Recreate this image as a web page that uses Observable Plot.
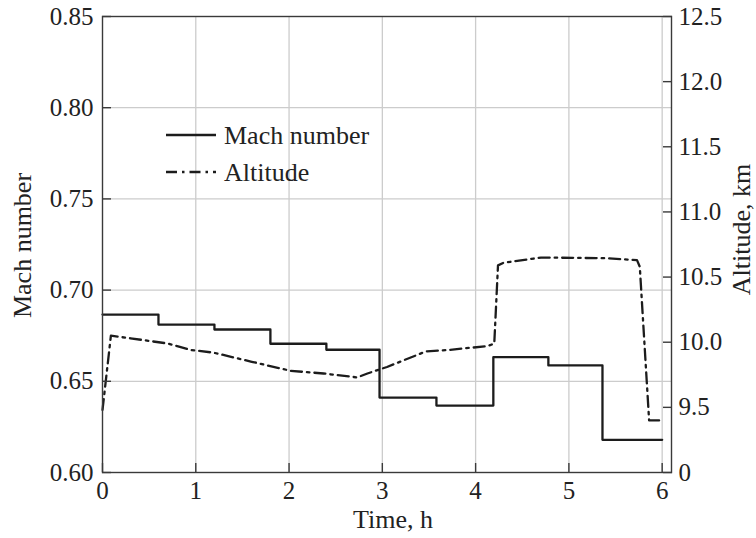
<!DOCTYPE html>
<html>
<head>
<meta charset="utf-8">
<script src="https://cdn.jsdelivr.net/npm/d3@7"></script>
<script src="https://cdn.jsdelivr.net/npm/@observablehq/plot@0.6"></script>
<style>
  html, body { margin: 0; padding: 0; background: white; }
  #chart { width: 756px; height: 538px; }
</style>
</head>
<body>
<div id="chart"></div>
<script>
// ---- data ----
const xTicks = [0, 1, 2, 3, 4, 5, 6];
const machTicks = [0.60, 0.65, 0.70, 0.75, 0.80, 0.85];
const altTickValues = [9.0, 9.5, 10.0, 10.5, 11.0, 11.5, 12.0, 12.5];
const altTickLabels = ["0", "9.5", "10.0", "10.5", "11.0", "11.5", "12.0", "12.5"];

// Mach number (step changes)
const machTime  = [0, 0.6, 1.2, 1.8, 2.4, 2.97, 3.58, 4.19, 4.78, 5.36, 6.0];
const machValue = [0.6866, 0.6811, 0.6784, 0.6706, 0.6673, 0.6411, 0.6367, 0.6632, 0.6587, 0.6179, 0.6179];

// Altitude, km
const altTime  = [0, 0.09, 0.30, 0.70, 0.95, 1.19, 1.60, 2.02, 2.37, 2.73, 2.84, 3.05, 3.47, 3.70, 4.13, 4.20, 4.24, 4.30, 4.70, 5.38, 5.73, 5.76, 5.86, 6.0];
const altValue = [9.48, 10.05, 10.03, 9.99, 9.94, 9.92, 9.85, 9.78, 9.76, 9.73, 9.76, 9.81, 9.93, 9.94, 9.97, 9.99, 10.59, 10.61, 10.65, 10.645, 10.63, 10.58, 9.40, 9.40];

// ---- scale mapping for the secondary (altitude) axis ----
const machDomain = [0.60, 0.85];
const altDomain = [9.0, 12.5];
const toMach = a => machDomain[0] + (a - altDomain[0]) / (altDomain[1] - altDomain[0]) * (machDomain[1] - machDomain[0]);

const machData = machTime.map((t, i) => ({t, v: machValue[i]}));
const altData = altTime.map((t, i) => ({t, a: altValue[i]}));
const altTickPos = altTickValues.map(toMach);
const altLabelFor = d => {
  const i = altTickPos.findIndex(p => Math.abs(p - d) < 1e-9);
  return i >= 0 ? altTickLabels[i] : "";
};

const FONT = "'Liberation Serif', 'Times New Roman', Times, serif";
const INK = "#222";
const FRAME = "#3a3a3a";
const GRID = "#cccccc";

const chart = Plot.plot({
  width: 756,
  height: 538,
  marginLeft: 102,
  marginRight: 85,
  marginTop: 16,
  marginBottom: 66,
  x: {domain: [0, 6.1]},
  y: {domain: machDomain},
  style: {fontFamily: FONT, fontSize: "25px", color: INK, background: "white"},
  marks: [
    Plot.gridX(xTicks.slice(1), {stroke: GRID, strokeOpacity: 1, strokeWidth: 1.3}),
    Plot.gridY(machTicks.slice(1, -1), {stroke: GRID, strokeOpacity: 1, strokeWidth: 1.3}),
    Plot.line(altData, {x: "t", y: d => toMach(d.a), stroke: "#1c1c1c", strokeWidth: 2.3, strokeDasharray: "11,5,2.5,5"}),
    Plot.line(machData, {x: "t", y: "v", curve: "step-after", stroke: "#1c1c1c", strokeWidth: 2.3}),
    Plot.frame({stroke: FRAME, strokeWidth: 1.4}),
    // inward ticks
    Plot.axisX(xTicks, {tickSize: -9, tickFormat: () => "", label: null, stroke: FRAME, strokeWidth: 1.4}),
    Plot.axisY(machTicks, {anchor: "left", tickSize: -9, tickFormat: () => "", label: null, stroke: FRAME, strokeWidth: 1.4}),
    Plot.axisY(altTickPos, {anchor: "right", tickSize: -9, tickFormat: () => "", label: null, stroke: FRAME, strokeWidth: 1.4}),
    // tick labels
    Plot.axisX(xTicks, {tickSize: 0, tickPadding: 9, tickFormat: d => String(d), label: null, fill: INK}),
    Plot.axisY(machTicks, {anchor: "left", tickSize: 0, tickPadding: 9, tickFormat: d3.format(".2f"), label: null, fill: INK}),
    Plot.axisY(altTickPos, {anchor: "right", tickSize: 0, tickPadding: 7, tickFormat: altLabelFor, label: null, fill: INK}),
    // axis titles
    Plot.text(["Mach number"], {text: d => d, frameAnchor: "left", textAnchor: "middle", rotate: -90, dx: -80, dy: 1, fontSize: 26, fill: INK}),
    Plot.text(["Altitude, km"], {text: d => d, frameAnchor: "right", textAnchor: "middle", rotate: -90, dx: 70, dy: -15, fontSize: 26, fill: INK}),
    Plot.text(["Time, h"], {text: d => d, frameAnchor: "bottom", textAnchor: "middle", dx: 6, dy: 55, fontSize: 26, fill: INK})
  ]
});

document.getElementById("chart").appendChild(chart);

// ---- legend (inside the plot area) ----
const legendItems = [
  {label: "Mach number", dash: null},
  {label: "Altitude", dash: "11,5,2.5,5"}
];
const svg = d3.select(chart);
const lg = svg.append("g").attr("font-family", FONT).attr("font-size", 26).attr("fill", INK)
  .attr("text-anchor", "start");
legendItems.forEach((it, i) => {
  const y = 135 + i * 37;
  const ln = lg.append("line").attr("x1", 166).attr("x2", 216).attr("y1", y).attr("y2", y)
    .attr("stroke", "#1c1c1c").attr("stroke-width", 2.3);
  if (it.dash) ln.attr("stroke-dasharray", it.dash);
  lg.append("text").attr("x", 224).attr("y", y).attr("dy", "0.33em")
    .attr("text-anchor", "start").text(it.label);
});
</script>
</body>
</html>
